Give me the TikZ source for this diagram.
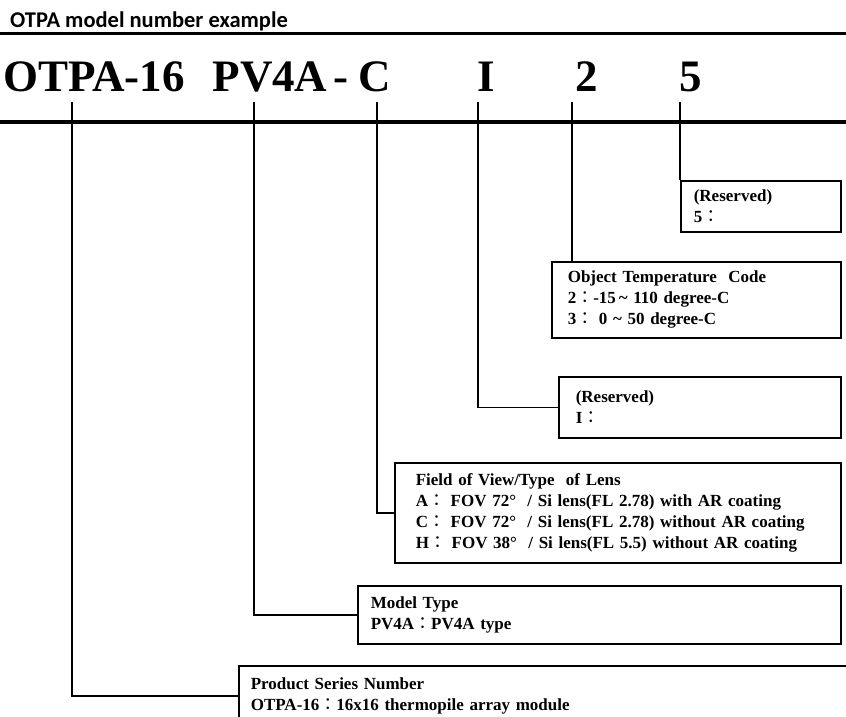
\documentclass[tikz,border=0pt]{standalone}
\usepackage{fontspec}
\setmainfont{Liberation Serif}
\newfontfamily\titlefont{Carlito}
\newfontfamily\cjk{Noto Sans CJK TC}
\newcommand{\fcolon}{{\cjk\mdseries ：}}

\tikzset{
  titletext/.style={anchor=base west,inner sep=0pt,font={\titlefont\bfseries\fontsize{22.5}{26}\selectfont}},
  code/.style={anchor=base,inner sep=0pt,font={\bfseries\fontsize{45}{50}\selectfont}},
  rule/.style={line width=3.5pt},
  link/.style={line width=1.6pt},
  infobox/.style={draw,line width=1.6pt,anchor=north west,align=left,
    font={\bfseries\fontsize{17}{21}\selectfont}}
}

\begin{document}
\begin{tikzpicture}[x=1pt,y=-1pt]
  \useasboundingbox (0,0) rectangle (846,717);

  \node[titletext] (title) at (10,28) {OTPA model number example};
  \draw[rule] (0,33.5) -- (846,33.5);

  \begin{scope}[every node/.style={code}]
    \node (otpa) at (94,92) {OTPA-16};
    \node (pvfa) at (270,92) {PV4A};
    \node (dash) at (341,92) {-};
    \node (lens) at (375,92) {C};
    \node (resI) at (486,92) {I};
    \node (temp) at (587,92) {2};
    \node (res5) at (691,92) {5};
  \end{scope}

  % tick tops under the code
  \coordinate (ko) at (72,102);
  \coordinate (kp) at (254,102);
  \coordinate (kl) at (377,102);
  \coordinate (ki) at (478,102);
  \coordinate (kt) at (572,102);
  \coordinate (k5) at (680,102);

  \begin{scope}[every node/.style={infobox}]
    \node[inner xsep=13pt,text width=134pt,minimum height=51pt] (box5) at (680,180)
      {(Reserved)\\5\fcolon};
    \node[inner xsep=16pt,text width=257pt,minimum height=76pt] (boxT) at (551,261)
      {Object Temperature\ \ Code\\2\fcolon-15\,\char`\~\ 110 degree-C\\3\fcolon\ 0 \char`\~\ 50 degree-C};
    \node[inner xsep=17pt,text width=248pt,minimum height=61pt] (boxI) at (558,376)
      {(Reserved)\\I\fcolon};
    \node[inner xsep=21pt,text width=404pt,minimum height=100pt] (boxL) at (394,462)
      {Field of View/Type\ \ of Lens\\
       A\fcolon\ FOV 72°\ \ / Si lens(FL 2.78) with AR coating\\
       C\fcolon\ FOV 72°\ \ / Si lens(FL 2.78) without AR coating\\
       H\fcolon\ FOV 38°\ \ / Si lens(FL 5.5) without AR coating};
    \node[inner xsep=13pt,text width=457pt,minimum height=58pt] (boxM) at (357,585)
      {Model Type\\PV4A\fcolon PV4A type};
    \node[inner xsep=12pt,text width=608pt,minimum height=60pt] (boxP) at (238,665)
      {Product Series Number\\OTPA-16\fcolon 16x16 thermopile array module};
  \end{scope}

  \draw[link] (k5) -- (box5.north west);
  \draw[link] (kt) -- (kt |- boxT.north);
  \draw[link] (ki) |- (boxI.west);
  \draw[link] (kl) |- (boxL.west);
  \draw[link] (kp) |- (boxM.west);
  \draw[link] (ko) |- (boxP.west);

  \draw[rule] (0,122) -- (846,122);
\end{tikzpicture}
\end{document}
